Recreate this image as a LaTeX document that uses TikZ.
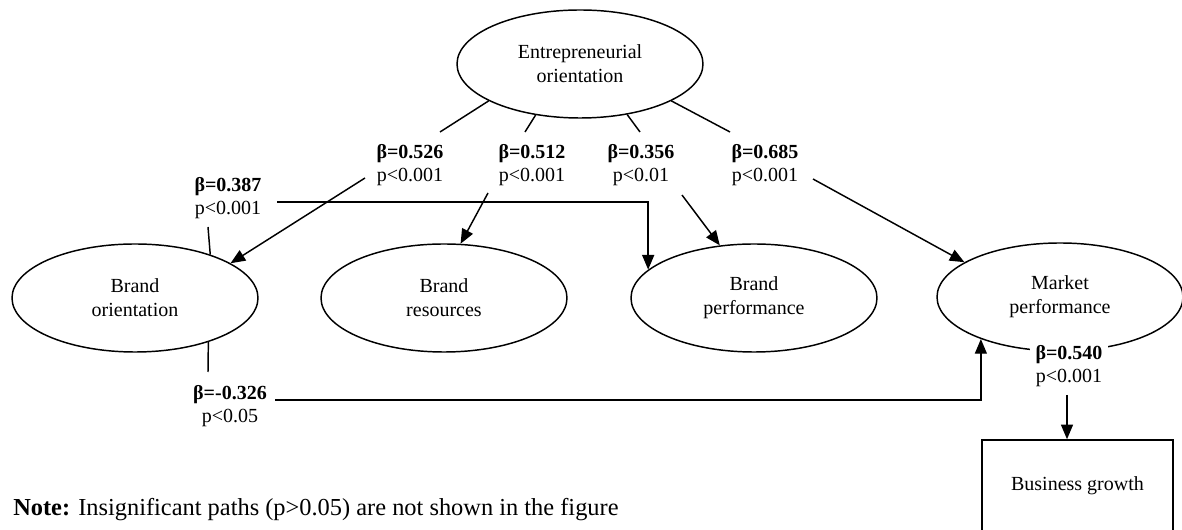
\documentclass[tikz,border=0pt]{standalone}
\usepackage{fontspec}
\setmainfont{Liberation Serif}
\usetikzlibrary{shapes.geometric,arrows.meta}
\tikzset{
  con/.style={line width=1.1pt},
  arr/.style={con, -{Triangle[length=11pt,width=9pt]}},
  lat/.style={ellipse, draw, con, minimum width=184.5pt, minimum height=81pt,
    inner sep=0pt, align=center, font=\fontsize{15}{18}\selectfont},
  lbl/.style={align=center, inner sep=0pt, font=\fontsize{15}{17.5}\selectfont},
  boxnode/.style={draw, con, minimum width=143.25pt, minimum height=69pt,
    inner sep=0pt, font=\fontsize{15}{18}\selectfont},
}
\begin{document}
\begin{tikzpicture}[x=0.75pt,y=-0.75pt]
\clip (0,0) rectangle (1182,530);
% latent constructs
\node[lat] (eo) at (580,64) {Entrepreneurial\\orientation};
\node[lat] (bo) at (135,298) {Brand\\orientation};
\node[lat] (br) at (444,298) {Brand\\resources};
\node[lat] (bp) at (754,298) {Brand\\performance};
\node[lat] (mp) at (1060,297) {Market\\performance};
\node[boxnode] (bg) at (1077.5,486) {Business growth};
% path labels
\node[lbl] (l526) at (410,165) {\textbf{β=0.526}\\p<0.001};
\node[lbl] (l512) at (532,165) {\textbf{β=0.512}\\p<0.001};
\node[lbl] (l356) at (641,165) {\textbf{β=0.356}\\p<0.01};
\node[lbl] (l685) at (765,165) {\textbf{β=0.685}\\p<0.001};
\node[lbl] (l387) at (228,198) {\textbf{β=0.387}\\p<0.001};
\node[lbl] (l326) at (230,406) {\textbf{β=-0.326}\\p<0.05};
\node[lbl, fill=white, inner xsep=4pt, inner ysep=1pt] (l540) at (1069,366) {\textbf{β=0.540}\\p<0.001};
% note
\node[anchor=west, inner sep=0pt, font=\fontsize{18.3}{22}\selectfont] (note) at (13,510)
  {\textbf{Note:} Insignificant paths (p>0.05) are not shown in the figure};
% free ends
\coordinate (a1) at (440,132);
\coordinate (a2) at (525,132);
\coordinate (a3) at (640,132);
\coordinate (a4) at (730,132);
\coordinate (b1) at (365,178);
\coordinate (b2) at (488,193);
\coordinate (b3) at (682,195);
\coordinate (b4) at (813,179);
\coordinate (t387) at (208,227);
\coordinate (s387) at (277,202);
\coordinate (t326) at (208,372);
\coordinate (s326) at (275,400);
\coordinate (s540) at (1067,395);
% connectors
\draw[con] (eo.202.75) -- (a1);
\draw[arr] (b1) -- (bo.20.8);
\draw[con] (eo.229.5) -- (a2);
\draw[arr] (b2) -- (br.73.8);
\draw[con] (eo.313.4) -- (a3);
\draw[arr] (b3) -- (bp.123.7);
\draw[con] (eo.338.1) -- (a4);
\draw[arr] (b4) -- (mp.160.7);
\draw[con] (bo.30.8) -- (t387);
\draw[arr] (s387) -| (bp.165.1);
\draw[con] (bo.329.2) -- (t326);
\draw[arr] (s326) -| (mp.208.3);
\draw[arr] (s540) -- (s540 |- bg.north);
\end{tikzpicture}
\end{document}
